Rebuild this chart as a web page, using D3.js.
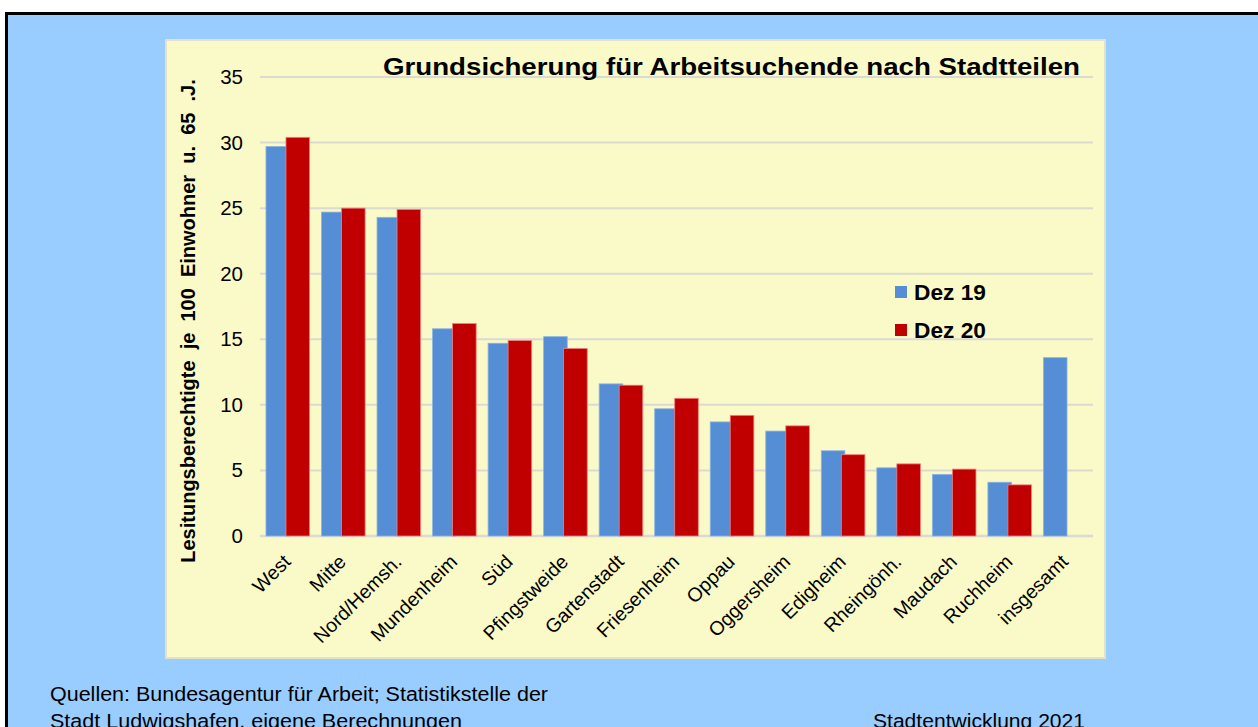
<!DOCTYPE html>
<html>
<head>
<meta charset="utf-8">
<script src="https://cdn.jsdelivr.net/npm/d3@7"></script>
<style>
  body { margin: 0; background: #fff; overflow: hidden; }
  text { font-family: "Liberation Sans", Arial, sans-serif; }
</style>
</head>
<body>
<svg id="chart" width="1258" height="727"></svg>
<script>
// data
var districts = ["West", "Mitte", "Nord/Hemsh.", "Mundenheim", "Süd", "Pfingstweide", "Gartenstadt",
  "Friesenheim", "Oppau", "Oggersheim", "Edigheim", "Rheingönh.", "Maudach", "Ruchheim", "insgesamt"];
var dez19 = [29.7, 24.7, 24.3, 15.8, 14.7, 15.2, 11.6, 9.7, 8.7, 8.0, 6.5, 5.2, 4.7, 4.1, 13.6];
var dez20 = [30.4, 25.0, 24.9, 16.2, 14.9, 14.3, 11.5, 10.5, 9.2, 8.4, 6.2, 5.5, 5.1, 3.9, null];
var seriesNames = ["Dez 19", "Dez 20"];
var yTicks = [0, 5, 10, 15, 20, 25, 30, 35];

var colors = ["#558ED5", "#C00000"];
var edge = ["#8DB4E2", "#F08080"];

var svg = d3.select("#chart");

// outer frame
svg.append("rect")
  .attr("x", 6.5).attr("y", 13.5)
  .attr("width", 1270).attr("height", 740)
  .attr("fill", "#99CCFF")
  .attr("stroke", "#000")
  .attr("stroke-width", 3);

// chart box
svg.append("rect")
  .attr("x", 166).attr("y", 40)
  .attr("width", 939).attr("height", 618)
  .attr("fill", "#FAFAC8")
  .attr("stroke", "#E2E2C8")
  .attr("stroke-width", 2);

var plot = {left: 260, right: 1093, top: 77, bottom: 536};

var x = d3.scaleBand()
  .domain(districts)
  .range([plot.left, plot.right]);

var y = d3.scaleLinear()
  .domain([0, 35])
  .range([plot.bottom, plot.top]);

// gridlines
svg.append("g")
  .selectAll("line")
  .data(yTicks)
  .enter().append("line")
    .attr("x1", plot.left).attr("x2", plot.right)
    .attr("y1", function(d) { return y(d); })
    .attr("y2", function(d) { return y(d); })
    .attr("stroke", "#DADAD0")
    .attr("stroke-width", function(d) { return d == 0 ? 2.5 : 2; });

// y tick labels
var yAxis = svg.append("g")
  .attr("transform", "translate(" + plot.left + ",0)")
  .call(d3.axisLeft(y).tickValues(yTicks).tickSize(0).tickPadding(17));
yAxis.select(".domain").remove();
yAxis.selectAll("text")
  .attr("font-size", 20.5)
  .attr("font-family", "Liberation Sans, Arial, sans-serif")
  .attr("fill", "#000");

// bars
var barW = 23.6, overlap = 3.6;
var groupW = 2 * barW - overlap;
var gap = (x.bandwidth() - groupW) / 2;

[dez19, dez20].forEach(function(vals, s) {
  svg.append("g")
    .selectAll("rect")
    .data(districts.map(function(d, i) { return {cat: d, v: vals[i]}; })
      .filter(function(d) { return d.v != null; }))
    .enter().append("rect")
      .attr("x", function(d) { return x(d.cat) + gap + s * (barW - overlap); })
      .attr("y", function(d) { return y(d.v); })
      .attr("width", barW)
      .attr("height", function(d) { return y(0) - y(d.v); })
      .attr("fill", colors[s])
      .attr("stroke", edge[s])
      .attr("stroke-width", 0.8);
});

// x labels
svg.append("g")
  .selectAll("text")
  .data(districts)
  .enter().append("text")
    .attr("transform", function(d) {
      return "translate(" + (x(d) + x.bandwidth() / 2 + 4) + "," + 563 + ") rotate(-45)";
    })
    .attr("text-anchor", "end")
    .attr("font-size", 19.5)
    .attr("fill", "#000")
    .text(function(d) { return d; });

// title
svg.append("text")
  .attr("x", 383).attr("y", 75)
  .attr("font-size", 24)
  .attr("font-weight", "bold")
  .attr("textLength", 697)
  .attr("lengthAdjust", "spacingAndGlyphs")
  .text("Grundsicherung für Arbeitsuchende nach Stadtteilen");

// y axis title (double spaces as in the original)
svg.append("text")
  .attr("transform", "translate(195,321) rotate(-90)")
  .attr("text-anchor", "middle")
  .attr("font-size", 20)
  .attr("font-weight", "bold")
  .style("white-space", "pre")
  .text("Lesitungsberechtigte  je  100  Einwohner  u.  65  .J.");

// legend
var legend = svg.selectAll(".legend")
  .data(seriesNames)
  .enter().append("g")
    .attr("class", "legend")
    .attr("transform", function(d, i) { return "translate(895," + (286 + i * 38) + ")"; });

legend.append("rect")
  .attr("width", 12).attr("height", 12)
  .attr("fill", function(d, i) { return colors[i]; });

legend.append("text")
  .attr("x", 19).attr("y", 14)
  .attr("font-size", 22.7)
  .attr("font-weight", "bold")
  .text(function(d) { return d; });

// footer
svg.append("text")
  .attr("x", 50).attr("y", 701)
  .attr("font-size", 20)
  .attr("textLength", 498)
  .attr("lengthAdjust", "spacingAndGlyphs")
  .text("Quellen: Bundesagentur für Arbeit; Statistikstelle der");
svg.append("text")
  .attr("x", 50).attr("y", 728)
  .attr("font-size", 20)
  .attr("textLength", 412)
  .attr("lengthAdjust", "spacingAndGlyphs")
  .text("Stadt Ludwigshafen,  eigene Berechnungen");
svg.append("text")
  .attr("x", 873).attr("y", 728)
  .attr("font-size", 20)
  .attr("textLength", 212)
  .attr("lengthAdjust", "spacingAndGlyphs")
  .text("Stadtentwicklung 2021");
</script>
</body>
</html>
